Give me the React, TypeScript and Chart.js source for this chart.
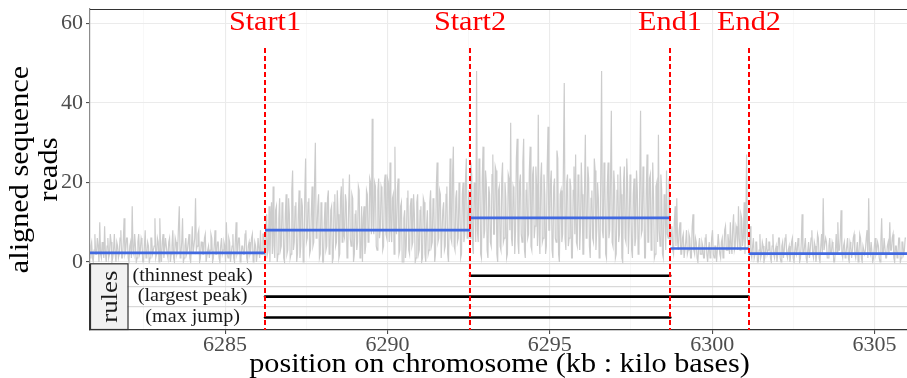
import React, { useEffect, useRef } from 'react';
import { Chart, registerables } from 'chart.js';

Chart.register(...registerables);

const FONT = '"Liberation Serif", "Times New Roman", serif';
const SX = 1.12; // horizontal stretch to approach Computer Modern widths

// ---- axes ----
const X_MIN = 6280.84;
const X_MAX = 6306.0;
const X_TICK_LABELS = [6285, 6290, 6295, 6300, 6305];
const X_MINOR_TICKS = [6282.5, 6287.5, 6292.5, 6297.5, 6302.5];
const Y_MIN = -0.33;
const Y_MAX = 63.6;
const Y_TICKS = [0, 10, 20, 30, 40, 50, 60];
const Y_TICK_LABELS = [0, 20, 40, 60];

// ---- breakpoints ----
const BREAK_NAMES = ['Start1', 'Start2', 'End1', 'End2'];
const BREAK_POS = [6286.23, 6292.545, 6298.71, 6301.12];
const BREAK_LABEL_Y = 60;
const BREAK_LINE_TOP = 53.8;

// ---- segment means (blue) ----
const SEGMENT_MEANS = [2.3, 8.0, 11.1, 3.4, 2.1];

// ---- rules panel ----
const RULE_NAMES = ['(thinnest peak)', '(largest peak)', '(max jump)'];
const RULE_ROWS = [3, 2, 1];
const RULE_FROM = [6292.545, 6286.23, 6286.23];
const RULE_TO = [6298.71, 6301.12, 6298.71];
const RULE_LABEL_X = 6284.0;
const RULE_MIN = 0.4;
const RULE_MAX = 3.6;
const RULE_GRID = [1.5, 2.5, 3.6];

// ---- coverage (aligned reads), one value every COVERAGE_STEP kb ----
const COVERAGE_STEP = 0.025;
const COVERAGE_STARTS = [6280.84, 6286.23, 6292.545, 6298.71, 6301.12];
const COVERAGE_1 = [
  1, 4, 5, 1, 0, 3, 7, 2, 2, 6, 4, 0, 10, 2, 1, 5, 3, 1, 9, 2,
  0, 4, 6, 1, 2, 7, 5, 0, 1, 3, 7, 2, 0, 5, 4, 1, 2, 6, 8, 1,
  1, 5, 11, 2, 3, 6, 6, 1, 0, 4, 5, 1, 14, 3, 2, 7, 4, 0, 1, 5,
  7, 2, 3, 6, 5, 0, 0, 4, 8, 1, 2, 5, 4, 0, 1, 6, 6, 2, 3, 4,
  11, 1, 2, 6, 5, 0, 11, 3, 0, 5, 7, 1, 3, 6, 4, 2, 1, 5, 6, 0,
  2, 4, 8, 1, 0, 6, 5, 2, 3, 9, 14, 1, 2, 5, 11, 0, 1, 4, 6, 2,
  3, 5, 7, 1, 0, 4, 9, 2, 2, 6, 16, 3, 4, 7, 8, 0, 1, 5, 5, 2,
  2, 6, 7, 0, 0, 3, 4, 1, 3, 7, 6, 0, 1, 4, 8, 2, 2, 5, 5, 1,
  0, 4, 6, 2, 3, 5, 4, 0, 10, 2, 1, 6, 5, 0, 2, 4, 7, 1, 0, 5,
  10, 2, 3, 6, 6, 0, 1, 4, 4, 2, 2, 7, 8, 1, 0, 4, 5, 2, 3, 6,
  7, 0, 1, 5, 4, 0, 2, 6, 6, 1, 8, 2, 2, 7, 7,
];
const COVERAGE_2 = [
  1, 9, 12, 2, 3, 14, 0, 10, 15, 2, 19, 4, 1, 13, 14, 0, 2, 11, 16, 3,
  4, 15, 13, 1, 0, 12, 17, 2, 3, 16, 12, 1, 2, 18, 23, 3, 5, 14, 15, 0,
  2, 12, 18, 1, 4, 16, 14, 0, 2, 17, 26, 5, 6, 15, 16, 2, 3, 12, 19, 4,
  5, 20, 30, 6, 8, 14, 17, 1, 2, 15, 13, 0, 0, 10, 15, 3, 4, 16, 18, 2,
  3, 13, 14, 0, 1, 15, 17, 4, 5, 18, 12, 1, 2, 16, 19, 5, 21, 7, 6, 17,
  15, 1, 3, 14, 22, 6, 4, 17, 16, 0, 2, 12, 13, 3, 5, 19, 18, 1, 2, 14,
  0, 11, 14, 2, 4, 18, 17, 5, 6, 21, 20, 7, 36, 9, 7, 20, 19, 4, 3, 18,
  21, 6, 8, 19, 18, 3, 4, 20, 22, 7, 6, 21, 20, 5, 25, 8, 5, 16, 17, 2,
  29, 9, 7, 18, 21, 2, 3, 14, 15, 0, 0, 11, 13, 1, 4, 16, 18, 3, 2, 14,
  16, 4, 5, 17, 12, 0, 1, 15, 17, 2, 3, 13, 14, 0, 1, 16, 15, 2, 0, 9,
  13, 2, 3, 15, 18, 4, 5, 16, 14, 0, 2, 19, 25, 5, 6, 18, 17, 1, 1, 13,
  15, 3, 4, 17, 19, 2, 0, 12, 26, 6, 5, 22, 29, 4, 3, 16, 18, 5, 6, 20,
  14, 1, 2, 17, 20, 5, 7, 21, 26, 6, 9, 18,
];
const COVERAGE_3 = [
  6, 25, 22, 4, 2, 20, 18, 5, 48, 8, 5, 26, 24, 2, 1, 21, 29, 6, 8, 23,
  20, 3, 1, 19, 17, 5, 4, 22, 27, 7, 7, 24, 23, 2, 0, 18, 19, 4, 3, 21,
  25, 5, 6, 20, 16, 1, 2, 22, 21, 8, 35, 6, 4, 19, 18, 2, 8, 26, 31, 5,
  2, 20, 22, 7, 5, 25, 31, 3, 1, 18, 20, 6, 7, 23, 29, 4, 3, 22, 24, 6,
  9, 24, 19, 4, 37, 7, 2, 21, 25, 5, 6, 22, 17, 2, 4, 24, 34, 8, 8, 20,
  23, 3, 1, 19, 21, 6, 5, 28, 26, 2, 0, 17, 18, 5, 7, 25, 45, 6, 3, 20,
  22, 4, 6, 21, 19, 1, 1, 18, 24, 7, 27, 5, 4, 22, 20, 3, 9, 25, 17, 2,
  2, 19, 32, 6, 7, 24, 21, 4, 1, 16, 18, 6, 5, 26, 23, 3, 8, 20, 16, 1,
  3, 22, 48, 8, 6, 25, 20, 2, 1, 19, 25, 6, 8, 21, 38, 5, 4, 23, 19, 1,
  2, 18, 22, 5, 7, 24, 17, 1, 0, 20, 24, 6, 5, 26, 20, 2, 9, 22, 15, 3,
  1, 17, 21, 4, 6, 23, 18, 2, 3, 20, 38, 7, 8, 24, 19, 1, 1, 18, 27, 5,
  5, 21, 22, 3, 7, 25, 16, 1, 2, 19, 20, 5, 32, 8, 4, 22, 18, 2, 1, 17,
  15, 3, 23, 7, 6, 21,
];
const COVERAGE_4 = [
  4, 7, 9, 3, 2, 10, 14, 4, 16, 5, 3, 8, 10, 2, 2, 6, 7, 1, 1, 5,
  8, 2, 3, 7, 6, 1, 1, 9, 12, 3, 2, 6, 5, 1, 0, 4, 6, 2, 2, 5,
  4, 1, 1, 6, 7, 2, 0, 3, 5, 1, 2, 6, 8, 2, 1, 4, 4, 0, 3, 7,
  7, 2, 1, 5, 6, 1, 2, 8, 9, 3, 3, 7, 5, 2, 10, 4, 2, 9, 12, 3,
  4, 9, 8, 3, 14, 6, 3, 12, 11, 4, 6, 15, 2, 8, 27, 6,
];
const COVERAGE_5 = [
  3, 6, 9, 2, 1, 4, 6, 1, 2, 5, 5, 0, 0, 3, 7, 1, 2, 5, 4, 0,
  1, 3, 6, 2, 3, 5, 5, 1, 0, 4, 7, 2, 1, 3, 4, 0, 2, 6, 6, 1,
  0, 4, 5, 1, 3, 6, 7, 2, 1, 3, 4, 0, 2, 5, 6, 1, 0, 3, 5, 2,
  3, 6, 4, 0, 1, 5, 12, 2, 2, 4, 6, 1, 0, 3, 5, 1, 3, 6, 8, 2,
  1, 5, 4, 0, 2, 7, 6, 1, 0, 4, 7, 2, 16, 3, 3, 6, 5, 1, 1, 4,
  6, 2, 2, 5, 4, 0, 0, 3, 7, 2, 10, 3, 3, 6, 13, 2, 1, 4, 5, 1,
  2, 4, 6, 1, 0, 5, 4, 1, 3, 6, 7, 2, 1, 3, 5, 0, 2, 7, 6, 1,
  0, 4, 4, 2, 3, 6, 8, 1, 16, 3, 2, 5, 5, 0, 1, 4, 6, 2, 3, 5,
  4, 1, 0, 5, 11, 2, 2, 6, 6, 1, 1, 4, 5, 2, 10, 3, 3, 6, 7, 1,
  0, 4, 4, 1, 2, 6, 6, 0, 1, 5, 5, 2, 3, 6, 6,
];
const COVERAGE_REGIONS = [COVERAGE_1, COVERAGE_2, COVERAGE_3, COVERAGE_4, COVERAGE_5];

// ---- style constants ----
const STRIP_W = 37.5;
const Y_AXIS_W = 90;
const X_AXIS_H = 48;

function drawText(
  ctx: CanvasRenderingContext2D,
  text: string,
  x: number,
  y: number,
  size: number,
  color: string,
  rotate = false,
  baseline: CanvasTextBaseline = 'alphabetic',
  align: CanvasTextAlign = 'center'
) {
  ctx.save();
  ctx.translate(x, y);
  if (rotate) ctx.rotate(-Math.PI / 2);
  ctx.scale(SX, 1);
  ctx.font = `${size}px ${FONT}`;
  ctx.fillStyle = color;
  ctx.textAlign = align;
  ctx.textBaseline = baseline;
  ctx.fillText(text, 0, 0);
  ctx.restore();
}

const overlayPlugin = {
  id: 'overlay',
  afterDatasetsDraw(chart: any) {
    const { ctx, chartArea, scales } = chart;
    const xs = scales.x;
    const yc = scales.yCov;
    const yr = scales.yRules;
    ctx.save();

    // top border of the plot
    ctx.strokeStyle = '#333333';
    ctx.lineWidth = 1.2;
    ctx.beginPath();
    ctx.moveTo(chartArea.left, chartArea.top + 0.5);
    ctx.lineTo(chartArea.right, chartArea.top + 0.5);
    ctx.stroke();

    // "rules" strip
    const sT = yr.top;
    const sB = yr.bottom;
    ctx.fillStyle = '#f2f2f2';
    ctx.fillRect(chartArea.left, sT, STRIP_W, sB - sT);
    ctx.strokeStyle = '#333333';
    ctx.lineWidth = 1.2;
    ctx.strokeRect(chartArea.left + 0.5, sT + 0.5, STRIP_W, sB - sT - 1);
    drawText(ctx, 'rules', chartArea.left + 27, yr.getPixelForValue(2), 24, '#1a1a1a', true);

    // rule labels
    RULE_NAMES.forEach((name, i) => {
      drawText(ctx, name, xs.getPixelForValue(RULE_LABEL_X), yr.getPixelForValue(RULE_ROWS[i]), 18, '#1a1a1a', false, 'middle');
    });

    // red dashed breakpoint lines + labels
    ctx.strokeStyle = '#ff0000';
    ctx.lineWidth = 2;
    ctx.setLineDash([5, 3]);
    BREAK_POS.forEach((p, i) => {
      const px = Math.round(xs.getPixelForValue(p));
      ctx.beginPath();
      ctx.moveTo(px, yc.getPixelForValue(BREAK_LINE_TOP));
      ctx.lineTo(px, yr.getPixelForValue(RULE_MIN));
      ctx.stroke();
      drawText(ctx, BREAK_NAMES[i], px, yc.getPixelForValue(BREAK_LABEL_Y), 27, '#ff0000', false, 'middle');
    });
    ctx.setLineDash([]);

    // axis titles
    drawText(ctx, 'position on chromosome (kb : kilo bases)', (chartArea.left + chartArea.right) / 2 + 1, 372, 27, '#000000');
    const cy = (chartArea.top + chartArea.bottom) / 2;
    drawText(ctx, 'aligned sequence', 27.5, cy, 27, '#000000', true);
    drawText(ctx, 'reads', 57, cy, 27, '#000000', true);

    ctx.restore();
  },
};

function noPad(s: any) {
  s.paddingTop = 0;
  s.paddingBottom = 0;
  s.paddingLeft = 0;
  s.paddingRight = 0;
}

export default function App() {
  const ref = useRef<HTMLCanvasElement | null>(null);

  useEffect(() => {
    document.body.style.margin = '0';
    const canvas = ref.current;
    if (!canvas) return;

    const coverage: { x: number; y: number }[] = [];
    COVERAGE_REGIONS.forEach((vals, r) => {
      vals.forEach((v, i) => coverage.push({ x: COVERAGE_STARTS[r] + i * COVERAGE_STEP, y: v }));
    });

    const bounds = [X_MIN, ...BREAK_POS, X_MAX];
    const segDatasets = SEGMENT_MEANS.map((m, i) => ({
      type: 'line' as const,
      data: [
        { x: bounds[i], y: m },
        { x: bounds[i + 1], y: m },
      ],
      xAxisID: 'x',
      yAxisID: 'yCov',
      borderColor: '#4169e1',
      borderWidth: 2.6,
      pointRadius: 0,
      order: 1,
    }));

    const ruleDatasets = RULE_NAMES.map((_, i) => ({
      type: 'line' as const,
      data: [
        { x: RULE_FROM[i], y: RULE_ROWS[i] },
        { x: RULE_TO[i], y: RULE_ROWS[i] },
      ],
      xAxisID: 'x',
      yAxisID: 'yRules',
      borderColor: '#000000',
      borderWidth: 2.6,
      borderCapStyle: 'round' as const,
      pointRadius: 0,
      order: 1,
    }));

    const chart = new Chart(canvas, {
      type: 'line',
      data: {
        datasets: [
          {
            data: coverage,
            xAxisID: 'x',
            yAxisID: 'yCov',
            borderColor: '#cccccc',
            borderWidth: 1.2,
            pointRadius: 0,
            tension: 0,
            order: 3,
          } as any,
          ...segDatasets,
          ...ruleDatasets,
        ],
      },
      options: {
        animation: false,
        responsive: false,
        maintainAspectRatio: false,
        layout: { padding: { top: 9, right: 0, bottom: 0, left: 0 } },
        plugins: { legend: { display: false }, tooltip: { enabled: false } },
        scales: {
          x: {
            type: 'linear',
            position: 'bottom',
            min: X_MIN,
            max: X_MAX,
            afterBuildTicks: (s: any) => {
              s.ticks = [...X_MINOR_TICKS, ...X_TICK_LABELS].sort((a, b) => a - b).map((v) => ({ value: v }));
            },
            afterFit: (s: any) => {
              s.height = X_AXIS_H;
              noPad(s);
            },
            ticks: {
              autoSkip: false,
              maxRotation: 0,
              padding: 0,
              color: '#4d4d4d',
              font: { family: FONT, size: 22, lineHeight: 1.0 },
              callback: (v: any) => (X_TICK_LABELS.includes(Number(v)) ? String(v) : ''),
            },
            grid: {
              color: (c: any) => (X_TICK_LABELS.includes(c.tick?.value) ? '#ebebeb' : '#f4f4f4'),
              lineWidth: (c: any) => (X_TICK_LABELS.includes(c.tick?.value) ? 1.1 : 0.6),
              tickLength: 4,
              tickColor: (c: any) => (X_TICK_LABELS.includes(c.tick?.value) ? '#4d4d4d' : 'rgba(0,0,0,0)'),
            },
            border: { color: '#333333', width: 1.2 },
          },
          yRules: {
            type: 'linear',
            position: 'left',
            stack: 'panels',
            stackWeight: 66.7,
            min: RULE_MIN,
            max: RULE_MAX,
            afterBuildTicks: (s: any) => {
              s.ticks = RULE_GRID.map((v) => ({ value: v }));
            },
            afterFit: (s: any) => {
              s.width = Y_AXIS_W;
              noPad(s);
            },
            ticks: { display: false },
            grid: { color: '#d9d9d9', lineWidth: 1.2, drawTicks: false },
            border: { color: '#333333', width: 1.2 },
          },
          yCov: {
            type: 'linear',
            position: 'left',
            stack: 'panels',
            stackWeight: 254.3,
            min: Y_MIN,
            max: Y_MAX,
            afterBuildTicks: (s: any) => {
              s.ticks = Y_TICKS.map((v) => ({ value: v }));
            },
            afterFit: (s: any) => {
              s.width = Y_AXIS_W;
              noPad(s);
            },
            ticks: {
              padding: 3,
              color: '#4d4d4d',
              font: { family: FONT, size: 22, lineHeight: 1.0 },
              callback: (v: any) => (Y_TICK_LABELS.includes(Number(v)) ? String(v) : ''),
            },
            grid: {
              color: (c: any) => (Y_TICK_LABELS.includes(c.tick?.value) ? '#ebebeb' : '#f4f4f4'),
              lineWidth: (c: any) => (Y_TICK_LABELS.includes(c.tick?.value) ? 1.1 : 0.6),
              tickLength: 4,
              tickColor: (c: any) => (Y_TICK_LABELS.includes(c.tick?.value) ? '#4d4d4d' : 'rgba(0,0,0,0)'),
            },
            border: { color: '#8c8c8c', width: 1.2 },
          },
        },
      } as any,
      plugins: [overlayPlugin],
    });

    return () => chart.destroy();
  }, []);

  return (
    <div style={{ width: 907, height: 378 }}>
      <canvas ref={ref} width={907} height={378} style={{ display: 'block', width: 907, height: 378 }} />
    </div>
  );
}
